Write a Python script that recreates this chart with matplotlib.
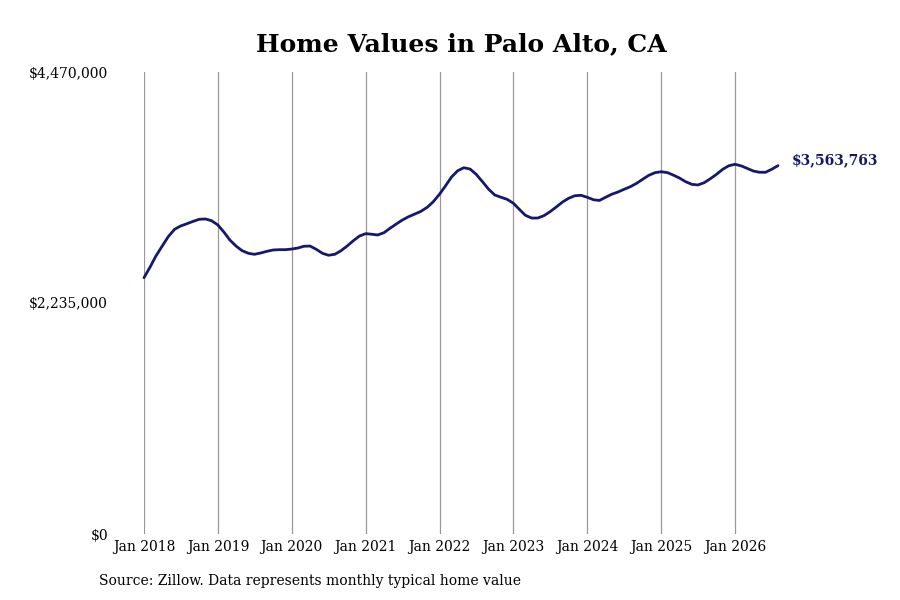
import matplotlib
matplotlib.use("Agg")
import matplotlib.pyplot as plt
import matplotlib.dates as mdates
import pandas as pd

# typical home value, monthly, Jan 2018 -> Aug 2026
fechas = pd.date_range("2018-01-01", periods=104, freq="MS")
valores = [
    2480000, 2586000, 2690000, 2786000, 2877000, 2948000, 2980000, 3002000,
    3025000, 3045000, 3048000, 3031000,
    2990000, 2919000, 2845000, 2786000, 2741000, 2716000, 2706000, 2719000,
    2735000, 2748000, 2751000, 2751000,
    2757000, 2767000, 2784000, 2786000, 2755000, 2716000, 2697000, 2706000,
    2741000, 2786000, 2838000, 2883000,
    2906000, 2900000, 2893000, 2915000, 2958000, 2999000, 3038000, 3070000,
    3096000, 3122000, 3161000, 3215000,
    3288000, 3373000, 3454000, 3515000, 3544000, 3531000, 3480000, 3409000,
    3335000, 3280000, 3258000, 3238000,
    3200000, 3138000, 3084000, 3057000, 3057000, 3080000, 3118000, 3164000,
    3212000, 3248000, 3273000, 3277000,
    3258000, 3234000, 3227000, 3258000, 3287000, 3309000, 3335000, 3360000,
    3393000, 3432000, 3471000, 3496000,
    3505000, 3496000, 3473000, 3444000, 3409000, 3383000, 3377000, 3399000,
    3438000, 3480000, 3529000, 3563000,
    3577000, 3561000, 3538000, 3512000, 3500000, 3500000, 3529000, 3563763,
]
y_ticks = [0, 2235000, 4470000]
y_labels = ["$0", "$2,235,000", "$4,470,000"]
titulo = "Home Values in Palo Alto, CA"
fuente = "Source: Zillow. Data represents monthly typical home value"

color_linea = "#17176b"
plt.rcParams["font.family"] = ["DejaVu Serif"]

fig = plt.figure(figsize=(9, 6), dpi=100)
# axes placed in pixels: left 144, right 778, top 72, bottom 534
ax = fig.add_axes([144 / 900, 66 / 600, 634 / 900, 462 / 600])

ax.plot(fechas, valores, color=color_linea, lw=2.0, solid_capstyle="round",
        solid_joinstyle="round", clip_on=False)

ax.set_xlim(fechas[0], fechas[-1])
ax.set_ylim(0, 4470000)
ax.set_yticks(y_ticks)
ax.set_yticklabels(y_labels)
ax.xaxis.set_major_locator(mdates.YearLocator(month=1))
ax.xaxis.set_major_formatter(mdates.DateFormatter("Jan %Y"))
ax.tick_params(axis="both", length=0, labelsize=10, colors="black")
ax.tick_params(axis="y", pad=26)
ax.tick_params(axis="x", pad=4)
ax.grid(axis="x", color="#999999", lw=0.9)
ax.grid(axis="y", visible=False)
for s in ax.spines.values():
    s.set_visible(False)

# ultimo valor
ax.annotate(f"${valores[-1]:,}", xy=(fechas[-1], valores[-1]), xytext=(10, 4),
            textcoords="offset points", ha="left", va="center",
            fontsize=10, fontweight="bold", color=color_linea, annotation_clip=False)

fig.text(461 / 900, 1 - 44 / 600, titulo, ha="center", va="center",
         fontsize=18, fontweight="bold")
fig.text(99 / 900, 1 - 581 / 600, fuente, ha="left", va="center", fontsize=10)

fig.savefig("out.png", dpi=100)
